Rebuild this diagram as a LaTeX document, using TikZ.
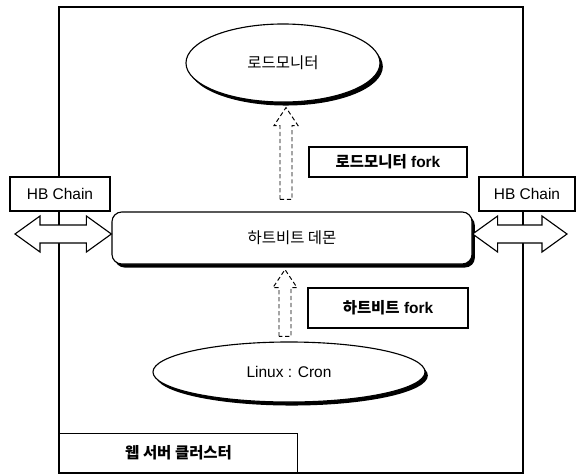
\documentclass[tikz,border=0pt]{standalone}
\usepackage{fontspec}
\setmainfont{Liberation Sans}
\newfontfamily\kr{Noto Sans CJK KR}
\usetikzlibrary{shapes.geometric,shadows,calc}

\tikzset{
    box/.style={draw, fill=white, line width=0.8pt, inner sep=0pt},
    oval/.style={ellipse, draw, fill=white, line width=0.8pt, inner sep=0pt,
        drop shadow={shadow xshift=2pt, shadow yshift=-2.5pt, fill=black, opacity=1}},
    daemon/.style={draw, fill=white, line width=0.8pt, rounded corners=7pt,
        drop shadow={shadow xshift=2pt, shadow yshift=-2.5pt, fill=black, opacity=1}},
    chainarrow/.style={draw, fill=white, line width=0.8pt, line join=miter},
    forkarrow/.style={draw, fill=white, line width=0.7pt, dash pattern=on 3pt off 2pt},
}

\begin{document}
\begin{tikzpicture}[x=0.025cm, y=-0.025cm, font=\fontsize{11}{13}\selectfont]
    \useasboundingbox (0,0) rectangle (584,474);
    \draw[line width=0.8pt] (59,7) rectangle (523,473);

    % nodes
    \node[oval, minimum width=4.85cm, minimum height=1.95cm] (lmon) at (283,63) {\kr 로드모니터};
    \node[daemon, minimum width=9.0cm, minimum height=1.3cm] (hbd) at (292,238) {\kr 하트비트 데몬};
    \node[oval, minimum width=6.8cm, minimum height=1.5cm] (cron) at (289,372) {Linux : Cron};

    \node[box, minimum width=3.95cm, minimum height=0.75cm] (lfork) at (388,162) {\bfseries{\kr 로드모니터} fork};
    \node[box, minimum width=4.0cm, minimum height=1.0cm] (hfork) at (388,308) {\bfseries{\kr 하트비트} fork};

    \node[box, minimum width=2.5cm, minimum height=0.85cm] (hbl) at (60,194) {HB Chain};
    \node[box, minimum width=2.4cm, minimum height=0.85cm] (hbr) at (527,194) {HB Chain};

    \node[box, minimum width=5.95cm, minimum height=0.975cm, anchor=south west] (clabel) at (59,473) {\bfseries\kr 웹 서버 클러스터};

    % chain arrows
    \coordinate (lend) at (15,234);
    \coordinate (lhb) at (lend -| hbd.west);
    \coordinate (rhb) at (lend -| hbd.east);
    \coordinate (rend) at (567,234);
    \draw[chainarrow] (lend) -- ++(25,-18) -- ++(0,9) -- ($(lhb)+(-25,-9)$) -- ++(0,-9) -- (lhb)
        -- ++(-25,18) -- ++(0,-9) -- ($(lend)+(25,9)$) -- ++(0,9) -- cycle;
    \draw[chainarrow] (rhb) -- ++(25,-18) -- ++(0,9) -- ($(rend)+(-25,-9)$) -- ++(0,-9) -- (rend)
        -- ++(-25,18) -- ++(0,-9) -- ($(rhb)+(25,9)$) -- ++(0,9) -- cycle;

    % fork arrows
    \coordinate (lmtip) at ($(lmon.south)+(3,5)$);
    \coordinate (lmtail) at ($(lmtip |- hbd.north)+(0,-12)$);
    \draw[forkarrow] ($(lmtail)+(-6,0)$) -- ($(lmtip)+(-6,18)$) -- ++(-6,0) -- (lmtip)
        -- ++(12,18) -- ++(-6,0) -- ($(lmtail)+(6,0)$) -- cycle;

    \coordinate (hbtip) at ($(hbd.south)+(-7,5)$);
    \coordinate (hbtail) at ($(hbtip |- cron.north)+(0,-5)$);
    \draw[forkarrow] ($(hbtail)+(-6,0)$) -- ($(hbtip)+(-6,18)$) -- ++(-6,0) -- (hbtip)
        -- ++(12,18) -- ++(-6,0) -- ($(hbtail)+(6,0)$) -- cycle;
\end{tikzpicture}
\end{document}
